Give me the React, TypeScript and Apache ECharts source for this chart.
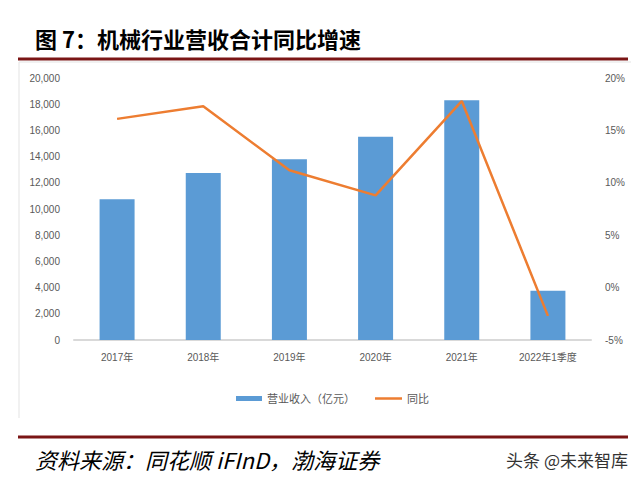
import React, { useEffect, useRef } from "react";
import * as echarts from "echarts";

const categories = ["2017年", "2018年", "2019年", "2020年", "2021年", "2022年1季度"];
const revenue = [10750, 12750, 13800, 15520, 18300, 3760];
const yoy = [16.1, 17.3, 11.2, 8.8, 17.8, -2.7];
const titleText = "图 7：机械行业营收合计同比增速";
const sourceText = "资料来源：同花顺 iFInD，渤海证券";
const watermark = "头条 @未来智库";

export default function App() {
  const ref = useRef<HTMLDivElement>(null);
  useEffect(() => {
    document.body.style.margin = "0";
    const chart = echarts.init(ref.current!, null, { renderer: "svg" });
    const cjk = "'Liberation Sans', 'Noto Sans CJK SC', sans-serif";
    const legendText = { fontSize: 11, color: "#595959", fontFamily: cjk };
    chart.setOption({
      animation: false,
      backgroundColor: "#ffffff",
      grid: { left: 74, right: 49, top: 78, height: 262 },
      legend: [
        {
          left: 231,
          top: 388,
          itemWidth: 26,
          itemHeight: 5,
          textStyle: legendText,
          data: [{ name: "营业收入（亿元）", icon: "rect" }],
        },
        {
          left: 370,
          top: 388,
          itemWidth: 27,
          itemHeight: 2.5,
          textStyle: legendText,
          data: [{ name: "同比", icon: "rect" }],
        },
      ],
      xAxis: {
        type: "category",
        data: categories,
        axisLine: { lineStyle: { color: "#d9d9d9", width: 2 } },
        axisTick: { show: false },
        axisLabel: { fontSize: 10, color: "#595959", margin: 12, fontFamily: cjk },
      },
      yAxis: [
        {
          type: "value",
          min: 0,
          max: 20000,
          interval: 2000,
          splitLine: { show: false },
          axisLine: { show: false },
          axisTick: { show: false },
          axisLabel: {
            fontSize: 10,
            color: "#595959",
            margin: 14,
            fontFamily: cjk,
            formatter: (v: number) => v.toLocaleString("en-US"),
          },
        },
        {
          type: "value",
          min: -5,
          max: 20,
          interval: 5,
          splitLine: { show: false },
          axisLine: { show: false },
          axisTick: { show: false },
          axisLabel: {
            fontSize: 10,
            color: "#595959",
            margin: 14,
            fontFamily: cjk,
            formatter: (v: number) => `${v}%`,
          },
        },
      ],
      series: [
        {
          name: "营业收入（亿元）",
          type: "bar",
          data: revenue,
          barWidth: 35,
          itemStyle: { color: "#5B9BD5" },
          yAxisIndex: 0,
        },
        {
          name: "同比",
          type: "line",
          data: yoy,
          yAxisIndex: 1,
          symbol: "none",
          lineStyle: { color: "#ED7D31", width: 2.5 },
          itemStyle: { color: "#ED7D31" },
        },
      ],
      graphic: [
        {
          type: "text",
          left: 35,
          top: 27,
          style: {
            text: titleText,
            font: "bold 22px 'Noto Sans CJK SC', sans-serif",
            fill: "#000000",
          },
        },
        {
          type: "line",
          shape: { x1: 18, y1: 59, x2: 628, y2: 59 },
          style: { stroke: "#7a1515", lineWidth: 3 },
        },
        {
          type: "polyline",
          shape: { points: [[19, 418], [19, 62], [631, 62]] },
          style: { stroke: "#e3e3e3", lineWidth: 1, fill: "none" },
        },
        {
          type: "line",
          shape: { x1: 18, y1: 437, x2: 628, y2: 437 },
          style: { stroke: "#7a1515", lineWidth: 3 },
        },
        {
          type: "text",
          left: 35,
          top: 448,
          style: {
            text: sourceText,
            font: "italic 22px 'Noto Sans CJK SC', sans-serif",
            fill: "#000000",
          },
        },
        {
          type: "text",
          right: 12,
          top: 451,
          style: {
            text: watermark,
            font: "17px 'Noto Sans CJK SC', sans-serif",
            fill: "#333333",
          },
        },
      ],
    });
    return () => chart.dispose();
  }, []);
  return <div ref={ref} style={{ width: 640, height: 480 }} />;
}
